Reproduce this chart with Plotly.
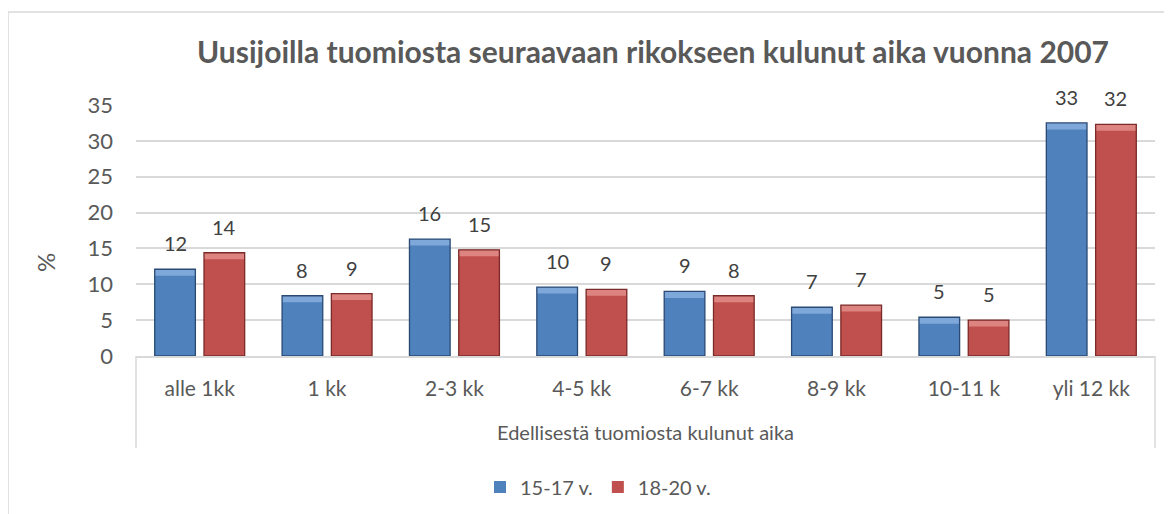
import plotly.graph_objects as go

categories = ["alle 1kk", "1 kk", "2-3 kk", "4-5 kk", "6-7 kk", "8-9 kk", "10-11 k", "yli 12 kk"]
series_names = ["15-17 v.", "18-20 v."]
values_15_17 = [12.1, 8.4, 16.3, 9.6, 9.0, 6.8, 5.4, 32.5]
values_18_20 = [14.4, 8.7, 14.8, 9.3, 8.4, 7.1, 5.0, 32.3]
y_ticks = [0, 5, 10, 15, 20, 25, 30, 35]

title_text = "Uusijoilla tuomiosta seuraavaan rikokseen kulunut aika vuonna 2007"
x_title = "Edellisestä tuomiosta kulunut aika"
y_title = "%"

# page body adds an 8px offset; target screen coordinates are converted below
OFF = 8
W, H = 1172, 514
L = 136 - OFF
T = 105 - OFF
R = W - (1155 - OFF)
B = H - (356 - OFF)
plot_w = W - L - R
plot_h = H - T - B

def px_x(px):
    return (px - OFF - L) / plot_w

def px_y(py):
    return (H - B - (py - OFF)) / plot_h

FONT = "Lato, 'Open Sans', sans-serif"
idx = list(range(len(categories)))
bargap = 0.226
slot = (1 - bargap) / 2
offs = [-slot / 2, slot / 2]

colors = ["#4f81bd", "#c0504d"]
tops = ["#7ea7da", "#dd8481"]
lines = ["#2a4a73", "#7a2a28"]
BAND = 0.9
all_vals = [values_15_17, values_18_20]

fig = go.Figure()
for k, (name, vals) in enumerate(zip(series_names, all_vals)):
    fig.add_trace(go.Bar(
        x=idx, y=vals, name=name, offsetgroup=str(k),
        marker=dict(color=colors[k], line=dict(width=0)),
        hoverinfo="y+name",
    ))
for k, vals in enumerate(all_vals):
    fig.add_trace(go.Bar(
        x=idx, y=[BAND] * len(vals), base=[v - BAND for v in vals],
        offsetgroup=str(k), showlegend=False, hoverinfo="skip",
        marker=dict(color=tops[k], line=dict(width=0)),
    ))
for k, vals in enumerate(all_vals):
    fig.add_trace(go.Bar(
        x=idx, y=vals, offsetgroup=str(k), showlegend=False, hoverinfo="skip",
        marker=dict(color="rgba(0,0,0,0)", line=dict(color=lines[k], width=1.3)),
    ))

annotations = []
for vals, off in zip(all_vals, offs):
    for i, v in zip(idx, vals):
        annotations.append(dict(
            x=i + off, y=v, xref="x", yref="y", text=str(int(v + 0.5)),
            showarrow=False, yanchor="middle", yshift=26,
            font=dict(family=FONT, size=20, color="#404040"),
        ))

annotations.append(dict(
    x=0.5, y=px_y(432), xref="paper", yref="paper", text=x_title,
    showarrow=False, yanchor="middle",
    font=dict(family=FONT, size=20, color="#595959"),
))
annotations.append(dict(
    x=px_x(45), y=px_y(263), xref="paper", yref="paper", text=y_title,
    showarrow=False, textangle=-90, xanchor="center", yanchor="middle",
    font=dict(family=FONT, size=24, color="#595959"),
))

shapes = [
    dict(type="rect", xref="paper", yref="paper",
         x0=px_x(8), x1=px_x(1200), y0=px_y(12), y1=px_y(540),
         line=dict(color="#d9d9d9", width=1.5), layer="below"),
    dict(type="line", xref="paper", yref="paper",
         x0=0, x1=0, y0=0, y1=px_y(448),
         line=dict(color="#d9d9d9", width=1.5)),
    dict(type="line", xref="paper", yref="paper",
         x0=1, x1=1, y0=0, y1=px_y(448),
         line=dict(color="#d9d9d9", width=1.5)),
]

fig.update_layout(
    width=W, height=H, autosize=False,
    margin=dict(l=L, r=R, t=T, b=B, pad=0, autoexpand=False),
    paper_bgcolor="white", plot_bgcolor="white",
    barmode="group", bargap=bargap, bargroupgap=0.175,
    title=dict(text=f"<b>{title_text}</b>", x=(653 - OFF) / W, xanchor="center",
               y=1 - (52 - OFF) / H, yanchor="middle",
               font=dict(family=FONT, size=30, color="#595959")),
    font=dict(family=FONT, size=20, color="#595959"),
    xaxis=dict(
        tickmode="array", tickvals=idx, ticktext=categories,
        range=[-0.5, len(categories) - 0.5],
        showgrid=False, zeroline=False,
        showline=True, linecolor="#d9d9d9", linewidth=1.5,
        ticks="", ticklabelstandoff=13, tickangle=0, automargin=False,
        tickfont=dict(family=FONT, size=21, color="#595959"),
    ),
    yaxis=dict(
        range=[0, 35], tickmode="array", tickvals=y_ticks,
        showgrid=True, gridcolor="#d9d9d9", gridwidth=1.5,
        zeroline=False, showline=False, ticks="",
        ticklabelstandoff=22, automargin=False,
        tickfont=dict(family=FONT, size=22, color="#595959"),
    ),
    legend=dict(
        orientation="h", x=px_x(598), xanchor="center",
        y=px_y(487), yanchor="middle",
        font=dict(family=FONT, size=20, color="#595959"),
        traceorder="normal",
    ),
    annotations=annotations,
    shapes=shapes,
    showlegend=True,
)

fig.write_html("out.html")
